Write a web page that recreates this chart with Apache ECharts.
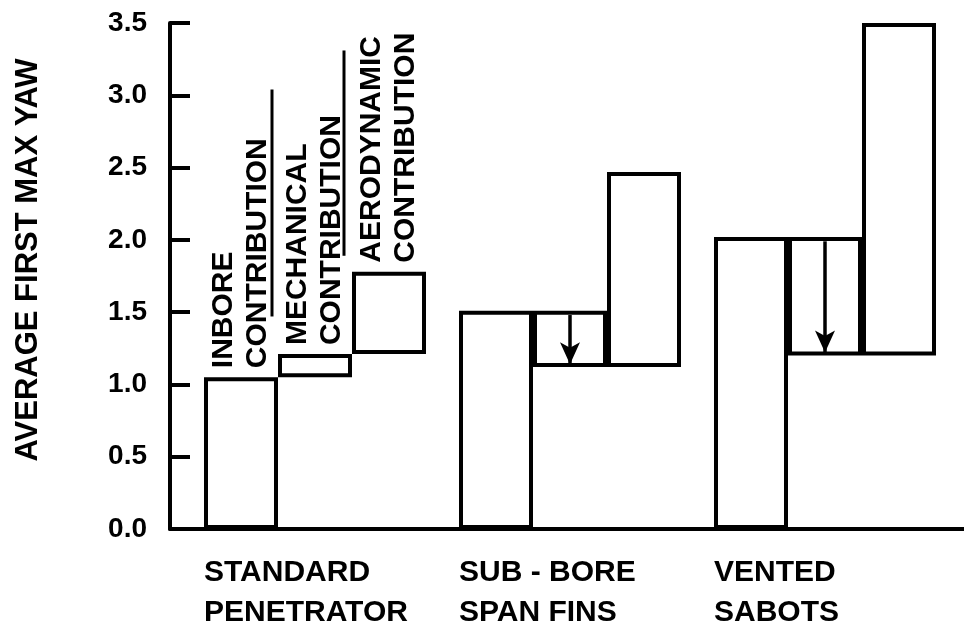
<!DOCTYPE html>
<html>
<head>
<meta charset="utf-8">
<script src="https://cdn.jsdelivr.net/npm/echarts@6/dist/echarts.min.js"></script>
<style>
  html, body { margin: 0; padding: 0; background: #fff; }
  #chart { width: 964px; height: 632px; }
</style>
</head>
<body>
<div id="chart"></div>
<script>
// data
const categories = ['STANDARD\nPENETRATOR', 'SUB - BORE\nSPAN FINS', 'VENTED\nSABOTS'];
const inbore = [1.05, 1.51, 2.02];          // inbore contribution (from 0)
const mechanical = [0.16, -0.39, -0.82];    // mechanical contribution (change)
const aerodynamic = [0.57, 1.35, 2.30];     // aerodynamic contribution (change)
const contributionLabels = ['INBORE\nCONTRIBUTION', 'MECHANICAL\nCONTRIBUTION', 'AERODYNAMIC\nCONTRIBUTION'];
const yMin = 0, yMax = 3.5, yStep = 0.5;

// floating bar bases / sizes
const mechBase = inbore.map((v, i) => v + Math.min(0, mechanical[i]));
const mechSize = mechanical.map(v => Math.abs(v));
const aeroBase = inbore.map((v, i) => v + mechanical[i]);

const FONT = '"Liberation Sans", Arial, sans-serif';
const barStyle = { color: '#fff', borderColor: '#000', borderWidth: 4 };
const hidden = { color: 'transparent', borderWidth: 0 };
const labelBase = {
  position: 'top', rotate: 90, align: 'left', verticalAlign: 'middle',
  distance: 9, fontSize: 30, fontWeight: 'bold', lineHeight: 34,
  color: '#000', fontFamily: FONT
};

// arrows for negative mechanical contributions
const arrows = [];
mechanical.forEach((d, i) => {
  if (d < 0) {
    arrows.push([
      { coord: [categories[i], inbore[i] - 0.03] },
      { coord: [categories[i], inbore[i] + d + 0.02] }
    ]);
  }
});

const chart = echarts.init(document.getElementById('chart'));

const option = {
  animation: false,
  backgroundColor: '#fff',
  grid: [
    { left: 187.5, right: 11.5, top: 23, bottom: 103 },
    { left: 170, right: 0, top: 23, bottom: 103 }
  ],
  xAxis: [
    {
      type: 'category', gridIndex: 0, data: categories,
      axisLine: { show: false }, axisTick: { show: false },
      axisLabel: {
        margin: 24,
        formatter: v => v.split('\n').map(s => '{c|' + s + '}').join('\n'),
        rich: {
          c: { width: 222, align: 'left', fontSize: 30, fontWeight: 'bold',
               lineHeight: 40, color: '#000', fontFamily: FONT }
        }
      }
    },
    {
      type: 'value', gridIndex: 1, min: 0, max: 1,
      axisLine: { show: true, lineStyle: { color: '#000', width: 4 } },
      axisTick: { show: false }, axisLabel: { show: false }, splitLine: { show: false }
    }
  ],
  yAxis: [
    { type: 'value', gridIndex: 0, min: yMin, max: yMax, show: false },
    {
      type: 'value', gridIndex: 1, min: yMin, max: yMax, interval: yStep,
      name: 'AVERAGE FIRST MAX YAW', nameLocation: 'middle', nameGap: 126,
      nameTextStyle: { fontSize: 31, fontWeight: 'bold', color: '#000',
                       fontFamily: FONT, padding: [0, 0, 0, 32] },
      axisLine: { show: true, lineStyle: { color: '#000', width: 4 } },
      axisTick: { show: true, inside: true, length: 20, lineStyle: { color: '#000', width: 4 } },
      axisLabel: { margin: 23, fontSize: 28, fontWeight: 'bold', color: '#000',
                   fontFamily: FONT, formatter: v => v.toFixed(1) },
      splitLine: { show: false }
    }
  ],
  series: [
    {
      name: 'Inbore', type: 'bar', stack: 'inb', barWidth: 74, barGap: '0%', clip: false,
      itemStyle: barStyle,
      label: labelBase,
      data: inbore.map((v, i) => i === 0
        ? { value: v, label: { show: true, formatter: contributionLabels[0] } }
        : v)
    },
    {
      name: 'MechBase', type: 'bar', stack: 'mech', barWidth: 74, barGap: '0%',
      itemStyle: hidden, silent: true, data: mechBase
    },
    {
      name: 'Mechanical', type: 'bar', stack: 'mech', barWidth: 74, barGap: '0%', clip: false,
      itemStyle: barStyle,
      label: labelBase,
      data: mechSize.map((v, i) => i === 0
        ? { value: v, label: { show: true, formatter: contributionLabels[1] } }
        : v),
      markLine: {
        silent: true,
        symbol: ['none', 'arrow'],
        symbolSize: [15, 22],
        label: { show: false },
        lineStyle: { color: '#000', width: 3.5, type: 'solid' },
        data: arrows
      }
    },
    {
      name: 'AeroBase', type: 'bar', stack: 'aero', barWidth: 74, barGap: '0%',
      itemStyle: hidden, silent: true, data: aeroBase
    },
    {
      name: 'Aerodynamic', type: 'bar', stack: 'aero', barWidth: 74, barGap: '0%', clip: false,
      itemStyle: barStyle,
      label: labelBase,
      data: aerodynamic.map((v, i) => i === 0
        ? { value: v, label: { show: true, formatter: contributionLabels[2] } }
        : v)
    }
  ]
};

chart.setOption(option);

// underline strokes next to the rotated labels
const cx = chart.convertToPixel({ xAxisIndex: 0 }, categories[0]);
const py = v => chart.convertToPixel({ yAxisIndex: 0 }, v);
chart.setOption({
  graphic: [
    { type: 'line', shape: { x1: cx - 43, y1: py(3.04), x2: cx - 43, y2: py(1.47) },
      style: { stroke: '#000', lineWidth: 3 } },
    { type: 'line', shape: { x1: cx + 29, y1: py(3.31), x2: cx + 29, y2: py(1.89) },
      style: { stroke: '#000', lineWidth: 3 } }
  ]
});
</script>
</body>
</html>
